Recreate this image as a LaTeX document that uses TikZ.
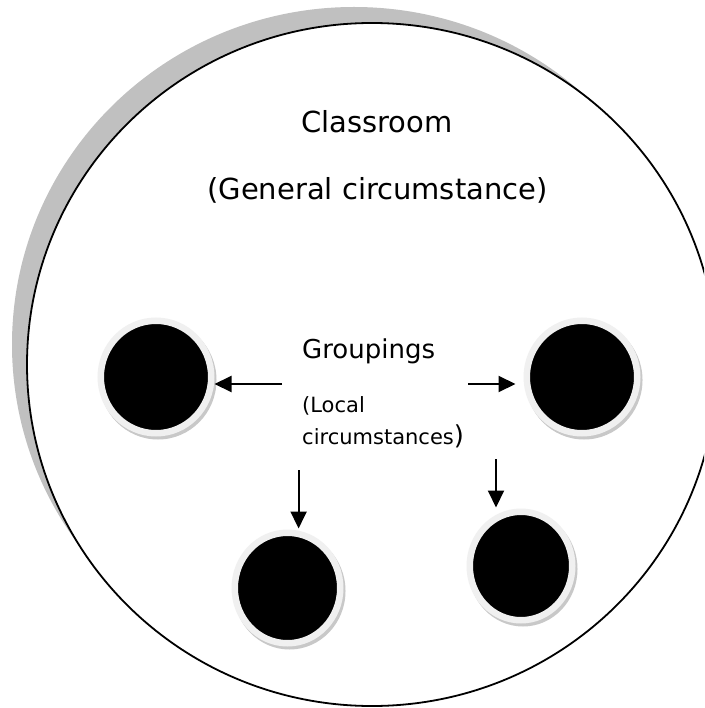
\documentclass[tikz,border=0pt]{standalone}
\usepackage{fontspec}
\setmainfont{DejaVu Sans}
\usetikzlibrary{arrows.meta,shapes.geometric}
\definecolor{shadowc}{HTML}{C0C0C0}
\definecolor{ringc}{HTML}{F0F0F0}
\definecolor{ringshadow}{HTML}{C8C8C8}
\tikzset{
  grp/.style={ellipse, fill=black, draw=ringc, line width=6.5pt, inner sep=0pt},
  conn/.style={line width=2pt, -{Triangle[length=17pt,width=16pt]}},
  lbl/.style={inner sep=0pt, text=black}
}
\begin{document}
\begin{tikzpicture}[x=1pt,y=-1pt]
\useasboundingbox (0,0) rectangle (704,708);
\clip (0,0) rectangle (704,708);
\fill[white] (0,0) rectangle (704,708);
% big circle shadow and outline
\fill[shadowc] (354,344.5) ellipse [x radius=342pt, y radius=337.5pt];
\filldraw[fill=white, draw=black, line width=1.8pt] (372,364.5) ellipse [x radius=345pt, y radius=341.5pt];
% small circle shadows
\fill[ringshadow] (158,380) ellipse [x radius=58.5pt, y radius=59.5pt];
\fill[ringshadow] (584,380) ellipse [x radius=58.5pt, y radius=59.5pt];
\fill[ringshadow] (289.5,591) ellipse [x radius=56pt, y radius=58.5pt];
\fill[ringshadow] (523,569) ellipse [x radius=54.5pt, y radius=57.5pt];
% small circles
\node[grp, minimum width=110.5pt, minimum height=112.5pt] (nL) at (156,377) {};
\node[grp, minimum width=110.5pt, minimum height=112.5pt] (nR) at (582,377) {};
\node[grp, minimum width=105.5pt, minimum height=110.5pt] (nBL) at (287.5,588) {};
\node[grp, minimum width=102.5pt, minimum height=108.5pt] (nBR) at (521,566) {};
% texts
\node[lbl, anchor=base, font=\fontsize{29}{34}\selectfont] (tClass) at (377,133) {Classroom};
\node[lbl, anchor=base, font=\fontsize{29}{34}\selectfont] (tGen) at (377.5,200) {(General circumstance)};
\node[lbl, anchor=base west, font=\fontsize{26}{30}\selectfont] (tGrp) at (302,358) {Groupings};
\node[lbl, anchor=base west, font=\fontsize{21}{25}\selectfont] (tLoc1) at (302,412) {(Local};
\node[lbl, anchor=base west, font=\fontsize{21}{25}\selectfont] (tLoc2) at (302,444.5) {circumstances{\fontsize{26}{30}\selectfont)}};
% arrow tails
\coordinate (aL) at (282,384);
\coordinate (aR) at (468,384);
\coordinate (aBL) at (298.6,470);
\coordinate (aBR) at (496,459);
\draw[conn] (aL) -- (aL -| nL.east);
\draw[conn, shorten >=8pt] (aR) -- (aR -| nR.west);
\draw[conn, shorten >=1pt] (aBL) -- (aBL |- nBL.north);
\draw[conn, shorten >=1pt] (aBR) -- (aBR |- nBR.north);
\end{tikzpicture}
\end{document}
